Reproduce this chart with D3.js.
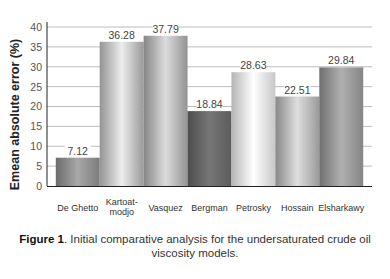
<!DOCTYPE html>
<html><head><meta charset="utf-8">
<script src="https://cdn.jsdelivr.net/npm/d3@7"></script>
<style>body{margin:0;background:#fff}svg{display:block}</style>
</head><body>
<svg id="c" width="390" height="279"></svg>
<script>
const categories = ["De Ghetto", "Kartoat-modjo", "Vasquez", "Bergman", "Petrosky", "Hossain", "Elsharkawy"];
const labelLines = [["De Ghetto"], ["Kartoat-", "modjo"], ["Vasquez"], ["Bergman"], ["Petrosky"], ["Hossain"], ["Elsharkawy"]];
const values = [7.12, 36.28, 37.79, 18.84, 28.63, 22.51, 29.84];
const yTicks = [0, 5, 10, 15, 20, 25, 30, 35, 40];
// gradient stops per bar: [left, light, right]
const shades = [
  ["#6c6c6c", "#a8a8a8", "#7c7c7c"],
  ["#949494", "#ededed", "#9a9a9a"],
  ["#858585", "#dcdcdc", "#939393"],
  ["#4e4e4e", "#767676", "#5c5c5c"],
  ["#b4b4b4", "#ffffff", "#c8c8c8"],
  ["#888888", "#dedede", "#9a9a9a"],
  ["#707070", "#b0b0b0", "#858585"]
];

(function () {
const svg = d3.select("#c");
const pL = 47, pR = 372, pT = 27, pB = 186;
const font = "'Liberation Sans', Arial, sans-serif";

const x = d3.scaleBand().domain(categories).range([pL, pR]).paddingInner(0).paddingOuter(0.2);
const y = d3.scaleLinear().domain([0, 40]).range([pB, pT]);

const defs = svg.append("defs");
categories.forEach((c, i) => {
  const g = defs.append("linearGradient").attr("id", "g" + i).attr("x1", "0").attr("x2", "1").attr("y1", "0").attr("y2", "0");
  g.append("stop").attr("offset", "0").attr("stop-color", shades[i][0]);
  g.append("stop").attr("offset", "0.5").attr("stop-color", shades[i][1]);
  g.append("stop").attr("offset", "1").attr("stop-color", shades[i][2]);
});

// grid
svg.append("g").selectAll("line").data(yTicks.filter(d => d > 0)).join("line")
  .attr("x1", pL).attr("x2", pR).attr("y1", d => y(d)).attr("y2", d => y(d))
  .attr("stroke", "#bdbdbd").attr("stroke-width", 1);

// y axis
const yAxis = svg.append("g").attr("transform", `translate(${pL},0)`)
  .call(d3.axisLeft(y).tickValues(yTicks).tickSize(0).tickPadding(5));
yAxis.select(".domain").attr("stroke", "#222").attr("d", `M0,${pT - 5}V${pB}`);
yAxis.selectAll("text").attr("font-family", font).attr("font-size", 10.5).attr("fill", "#555");

// bars
svg.append("g").selectAll("rect").data(values).join("rect")
  .attr("x", (d, i) => x(categories[i]))
  .attr("width", x.bandwidth())
  .attr("y", d => y(d))
  .attr("height", d => y(0) - y(d))
  .attr("fill", (d, i) => `url(#g${i})`);

// baseline
svg.append("line").attr("x1", pL).attr("x2", pR).attr("y1", pB + 0.5).attr("y2", pB + 0.5)
  .attr("stroke", "#222").attr("stroke-width", 1.2);

// value labels
const vl = svg.append("g").selectAll("g").data(values).join("g")
  .attr("transform", (d, i) => `translate(${x(categories[i]) + x.bandwidth() / 2},${y(d) - 3})`);
vl.append("rect").attr("x", -13).attr("y", -10).attr("width", 26).attr("height", 11).attr("fill", "#fff");
vl.append("text").attr("text-anchor", "middle").attr("font-family", font).attr("font-size", 10.5)
  .attr("fill", "#444").text(d => d.toFixed(2));

// x labels
const xl = svg.append("g").selectAll("text").data(labelLines).join("text")
  .attr("text-anchor", "middle").attr("font-family", font).attr("font-size", 9).attr("fill", "#333")
  .attr("transform", (d, i) => `translate(${x(categories[i]) + x.bandwidth() / 2},${d.length > 1 ? 205 : 211})`);
xl.selectAll("tspan").data(d => d).join("tspan").attr("x", 0).attr("dy", (d, j) => j ? 10 : 0).text(d => d);

// y title
svg.append("text").attr("transform", `translate(19,${(pT + pB) / 2 + 8}) rotate(-90)`)
  .attr("text-anchor", "middle").attr("font-family", font).attr("font-size", 12.5).attr("font-weight", "bold")
  .attr("fill", "#222").text("Emean absolute error (%)");

// caption
const cap = svg.append("text").attr("text-anchor", "middle").attr("font-family", font).attr("font-size", 11.5).attr("fill", "#333");
const l1 = cap.append("tspan").attr("x", 195).attr("y", 243);
l1.append("tspan").attr("font-weight", "bold").attr("fill", "#111").text("Figure 1");
l1.append("tspan").text(". Initial comparative analysis for the undersaturated crude oil");
cap.append("tspan").attr("x", 195).attr("y", 257).text("viscosity models.");
})();
</script>
</body></html>
